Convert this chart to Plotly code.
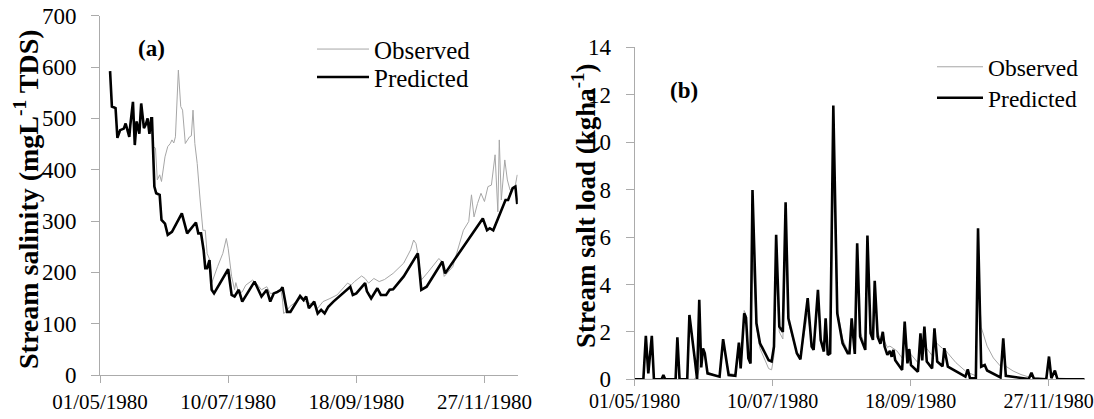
import pandas as pd
import plotly.graph_objects as go

# ---------------- data (day offsets from 01/05/1980) ----------------
START = "1980-05-01"

sal_pred_day = [5.5, 6.5, 8.5, 9.5, 11, 13, 14, 15, 16, 16.5, 18, 19, 20, 21.5, 22.5, 24, 25, 26, 27, 28, 28.4,
                29.7, 30.7, 32.6, 33.6, 35.5, 37, 39.3, 44.7, 47.6, 52.4, 53.7, 55.2, 56.6, 57.5, 58.5, 59.8,
                61, 62.3, 70, 71.9, 73.5, 75.8, 77.7, 84.4, 88.2, 91.1, 93, 94.9, 96.9, 98.8, 99.7,
                102.2, 104, 109.3, 111.2, 112.6, 114.1, 117, 118.9, 120.8, 122.7, 124.7, 127.5, 132.3,
                136.7, 138.1, 140, 144.8, 145.8, 148.1, 151.5, 153.4, 156.3, 158.2, 160.1, 165.9, 169.7,
                173.6, 175.5, 178.4, 187, 188.5, 209.1, 211.4, 212.9, 214.8, 221.5, 222.9, 225.4, 226.9, 227.9]
sal_pred_val = [592, 523, 520, 462, 477, 480, 490, 475, 464, 485, 532, 448, 494, 470, 529, 481, 488, 500, 470, 500, 500,
                367, 354, 351, 302, 295, 273, 279, 315, 276, 297, 276, 276, 243, 208, 208, 224,
                166, 159, 206, 156, 153, 166, 143, 182, 153, 166, 143, 159, 162, 166, 171,
                123, 123, 154, 146, 153, 130, 143, 120, 127, 120, 133, 143, 159,
                172, 156, 159, 179, 163, 149, 169, 156, 156, 166, 167, 192, 214,
                237, 166, 172, 221, 198, 305, 282, 286, 282, 341, 341, 364, 367, 333]

sal_obs_day = [5.5, 6.5, 8.5, 9.5, 11, 13, 14, 15, 16, 16.5, 18, 19, 20, 21.5, 22.5, 24, 25, 26, 27, 28, 28.4,
               28.8, 30.3, 31.3, 32.6, 33.6, 34.5, 35.5, 37, 38.4, 39.3, 40.3, 41.2, 42.8, 44.1, 45.1, 46.6,
               47.9, 48.9, 49.9, 50.8, 51.8, 53.1, 54.7, 56.2, 57.5, 58.5, 60, 61, 64.2, 67.1, 69, 70,
               71.9, 73.5, 74.2, 75.8, 77.7, 79.6, 83.4, 85.3, 88.2, 91.1, 93, 96.9, 98.8, 99.7, 100.3,
               101.6, 103.6, 109.3, 112.2, 114.1, 117, 118.9, 121.8, 125.6, 129.5, 135.2, 137.1, 139,
               142.9, 144.8, 146.7, 149.6, 152.5, 155.4, 160.1, 165.9, 169.7, 171.3, 172.6, 173.6, 175.5,
               179.3, 185.1, 186.6, 188, 192.7, 198.5, 201.4, 202.9, 204.3, 206.2, 208.1, 210, 211.9,
               213.8, 215.8, 217.3, 218.1, 219.2, 221.1, 222.5, 224, 226.9, 227.9]
sal_obs_val = [592, 523, 520, 462, 477, 480, 490, 475, 464, 485, 532, 448, 494, 470, 529, 481, 488, 500, 470, 500, 500,
               445, 442, 380, 390, 377, 399, 425, 445, 451, 458, 452, 464, 594, 523, 516, 451,
               458, 464, 466, 516, 451, 412, 341, 282, 282, 237, 224, 179, 211, 237, 266, 247,
               192, 166, 180, 159, 162, 175, 185, 179, 166, 172, 159, 159, 166, 146, 120,
               123, 133, 149, 143, 140, 136, 130, 143, 149, 156, 179, 175, 182,
               193, 188, 179, 188, 182, 186, 198, 218, 244, 263, 256, 237, 185,
               201, 227, 221, 192, 211, 282, 299, 351, 308, 334, 354, 338, 367,
               370, 429, 318, 458, 341, 419, 380, 360, 370, 390]

load_pred_day = [0, 4.45, 5.7, 6.95, 8.73, 9.8, 13.7, 14.6, 15.5, 20.8, 21.7, 22.8, 26.7, 27.8, 30.6, 31.7, 32.8,
                 33.8, 34.7, 35.6, 37, 43.1, 44.9, 46.7, 47.7, 51.1, 52.9, 53.8, 55.6, 56.5, 57.7, 58.8, 59.8,
                 61.8, 63.6, 68, 69.5, 70.7, 71.8, 73.4, 75.2, 76.6, 78, 82.3, 84.1, 87.8, 89.8, 90.8, 93,
                 94.4, 96, 96.9, 98, 99.2, 100.8, 102.8, 105.5, 108.1, 109, 110.1, 111.7, 112.9, 114.4, 117,
                 118.1, 119.7, 120.9, 121.8, 123.3, 124.7, 125.9, 126.8, 128.2, 129.5, 130.4, 131.3, 132.2,
                 135.7, 137, 138.4, 139.3, 140.2, 143.7, 145, 145.9, 147, 148.2, 150.9, 152.1, 153.5, 156.2,
                 157.1, 158.9, 167.8, 169, 170.1, 173.1, 174.2, 175.8, 177.6, 178.8, 185.6, 187, 188.3,
                 199.9, 201.3, 202.5, 208.8, 210.2, 211.4, 213.2, 214.5, 228.4]
load_pred_val = [0, 0, 1.83, 0.25, 1.83, 0, 0, 0.18, 0, 0, 1.77, 0, 0, 2.71, 0.8, 0, 3.35,
                 0.5, 1.3, 1.1, 0.25, 0.11, 1.69, 0.8, 0.18, 0.15, 1.55, 0.46, 2.78, 2.6, 0.89, 0.67, 7.98,
                 2.36, 1.52, 0.8, 0.75, 1.38, 6.09, 2.22, 2.0, 7.46, 2.57, 1.1, 0.84, 3.42, 1.38, 1.24, 3.77,
                 1.66, 1.17, 2.57, 1.03, 1.1, 11.54, 2.78, 1.52, 1.1, 1.1, 2.57, 1.07, 5.74, 1.8, 1.24,
                 6.06, 1.94, 1.66, 4.15, 1.8, 1.5, 2.0, 1.38, 1.03, 1.2, 0.95, 1.24, 0.8,
                 0.39, 2.43, 0.67, 1.27, 0.6, 0.32, 1.94, 0.8, 2.22, 0.75, 0.46, 2.15, 0.75, 0.55,
                 1.31, 0.53, 0.11, 0.42, 0.05, 0.03, 6.37, 0.53, 0.6, 0.37, 0.08, 1.73, 0.15,
                 0.01, 0.28, 0.03, 0, 0.96, 0.05, 0.37, 0, 0]

load_obs_day = [0, 30, 31.7, 33, 34.7, 35.6, 37, 43, 45, 46.7, 48, 51, 53, 54, 55.6, 56.5, 57.7, 58.8, 59.8,
                61.8, 63.6, 68, 69.5, 70.7, 71.8, 73.4, 75.2, 76.6, 78, 82.3, 84.1, 87.8, 89.8, 90.8, 93,
                94.4, 96, 96.9, 98, 99.2, 100.8, 102.8, 105.5, 108.1, 109, 110.1, 111.7, 112.9, 114.4, 117,
                118.1, 119.7, 120.9, 121.8, 123.3, 124.7, 125.9, 126.8, 128.2, 129.5, 131.3, 133, 135.7,
                137, 138.4, 139.3, 140.2, 143.7, 145, 145.9, 147, 148.2, 150.9, 152.1, 153.5, 156.2, 157.1,
                158.9, 163, 167.8, 170.1, 173.1, 174.2, 175.8, 178.8, 182, 185.6, 187, 188.3, 192, 196,
                199.9, 201.3, 203, 208.8, 210.2, 211.4, 213.2, 214.5, 228.4]
load_obs_val = [0, 0, 0.1, 0.5, 1.2, 1.0, 0.3, 0.1, 1.4, 0.8, 0.25, 0.2, 1.4, 0.6, 2.9, 2.7, 1.0, 0.8, 5.5,
                2.2, 1.3, 0.45, 0.4, 1.0, 4.5, 2.0, 1.7, 5.5, 2.4, 1.1, 0.9, 2.8, 1.5, 1.3, 3.2,
                1.7, 1.3, 2.2, 1.15, 1.15, 8.5, 3.0, 1.7, 1.2, 1.2, 2.2, 1.3, 4.5, 2.0, 1.4,
                4.8, 2.1, 1.8, 3.5, 2.0, 1.7, 2.0, 1.6, 1.35, 1.4, 1.3, 1.2, 0.9,
                1.8, 1.2, 1.3, 1.05, 0.7, 1.6, 1.2, 1.9, 1.3, 1.0, 1.7, 1.5, 1.3, 1.3,
                1.1, 0.7, 0.35, 0.25, 0.15, 4.8, 2.2, 1.4, 0.9, 0.55, 1.2, 0.55, 0.35, 0.2,
                0.1, 0.2, 0.05, 0.02, 0.7, 0.15, 0.3, 0.05, 0]

tick_dates = ["1980-05-01", "1980-07-10", "1980-09-18", "1980-11-27"]
tick_text = ["01/05/1980", "10/07/1980", "18/09/1980", "27/11/1980"]
sal_ticks = [0, 100, 200, 300, 400, 500, 600, 700]
load_ticks = [0, 2, 4, 6, 8, 10, 12, 14]


def to_dates(days):
    return pd.Timestamp(START) + pd.to_timedelta(days, unit="D")


W, H = 1094, 419
FONT = "Liberation Serif, Times New Roman, DejaVu Serif, serif"
AXIS_C = "#ababab"
OBS_C = "#a6a6a6"

fig = go.Figure()
fig.add_trace(go.Scatter(x=to_dates(sal_obs_day), y=sal_obs_val, mode="lines", name="Observed",
                         line=dict(color=OBS_C, width=1), xaxis="x", yaxis="y", legend="legend"))
fig.add_trace(go.Scatter(x=to_dates(sal_pred_day), y=sal_pred_val, mode="lines", name="Predicted",
                         line=dict(color="black", width=2.6), xaxis="x", yaxis="y", legend="legend2"))
fig.add_trace(go.Scatter(x=to_dates(load_obs_day), y=load_obs_val, mode="lines", name="Observed",
                         line=dict(color=OBS_C, width=1), xaxis="x2", yaxis="y2", legend="legend3"))
fig.add_trace(go.Scatter(x=to_dates(load_pred_day), y=load_pred_val, mode="lines", name="Predicted",
                         line=dict(color="black", width=2.6), xaxis="x2", yaxis="y2", legend="legend4"))

xcommon = dict(type="date", tickmode="array", tickvals=tick_dates, ticktext=tick_text,
               range=["1980-05-01", "1980-12-15 05:00"], showgrid=False, zeroline=False,
               showline=True, linecolor=AXIS_C, linewidth=1, ticks="outside",
               tickcolor=AXIS_C, automargin=False, ticklabeloverflow="allow")
ycommon = dict(tickmode="array", showgrid=False, zeroline=False, showline=True, linecolor=AXIS_C,
               linewidth=1, ticks="outside", ticklen=8, tickcolor=AXIS_C,
               tickfont=dict(family=FONT, size=23, color="black"), ticklabelstandoff=10,
               automargin=False)


def leg(x, y, size, iw):
    return dict(x=x / W, y=1 - y / H, xanchor="left", yanchor="middle", bgcolor="rgba(0,0,0,0)",
                font=dict(family=FONT, size=size, color="black"), tracegroupgap=0, itemwidth=iw,
                borderwidth=0, visible=True)


fig.update_layout(
    width=W, height=H, margin=dict(l=0, r=0, t=0, b=0, pad=0, autoexpand=False),
    font=dict(family=FONT, color="black"),
    showlegend=True,
    paper_bgcolor="white", plot_bgcolor="white",
    xaxis=dict(xcommon, domain=[100 / W, 517.8 / W], anchor="y", ticklen=7, ticklabelstandoff=1,
               tickfont=dict(family=FONT, size=21, color="black")),
    yaxis=dict(ycommon, domain=[1 - 375 / H, 1 - 15.7 / H], range=[0, 700], tickvals=sal_ticks, anchor="x"),
    xaxis2=dict(xcommon, domain=[634.6 / W, 1084.5 / W], anchor="y2", ticklen=6, ticklabelstandoff=-2,
                tickfont=dict(family=FONT, size=20, color="black")),
    yaxis2=dict(ycommon, domain=[1 - 379.3 / H, 1 - 47.3 / H], range=[0, 14], tickvals=load_ticks, anchor="x2"),
    legend=leg(312, 49.3, 25, 52),
    legend2=leg(312, 77.3, 25, 52),
    legend3=leg(932, 67, 23.5, 46),
    legend4=leg(932, 98, 23.5, 46),
    annotations=[
        dict(text="<b>Stream salinity (mgL<sup>-1</sup> TDS)</b>", x=26 / W, y=1 - 199 / H,
             xref="paper", yref="paper", xanchor="center", yanchor="middle", textangle=-90,
             showarrow=False, font=dict(family=FONT, size=28, color="black")),
        dict(text="<b>Stream salt load (kgha<sup>-1</sup>)</b>", x=584 / W, y=1 - 206 / H,
             xref="paper", yref="paper", xanchor="center", yanchor="middle", textangle=-90,
             showarrow=False, font=dict(family=FONT, size=27, color="black")),
        dict(text="<b>(a)</b>", x=151 / W, y=1 - 49 / H, xref="paper", yref="paper",
             xanchor="center", yanchor="middle", showarrow=False,
             font=dict(family=FONT, size=23, color="black")),
        dict(text="<b>(b)</b>", x=684 / W, y=1 - 90 / H, xref="paper", yref="paper",
             xanchor="center", yanchor="middle", showarrow=False,
             font=dict(family=FONT, size=23, color="black")),
    ],
)

fig.write_html("out.html", config={"displayModeBar": False},
               post_script="document.body.style.margin='0';")
